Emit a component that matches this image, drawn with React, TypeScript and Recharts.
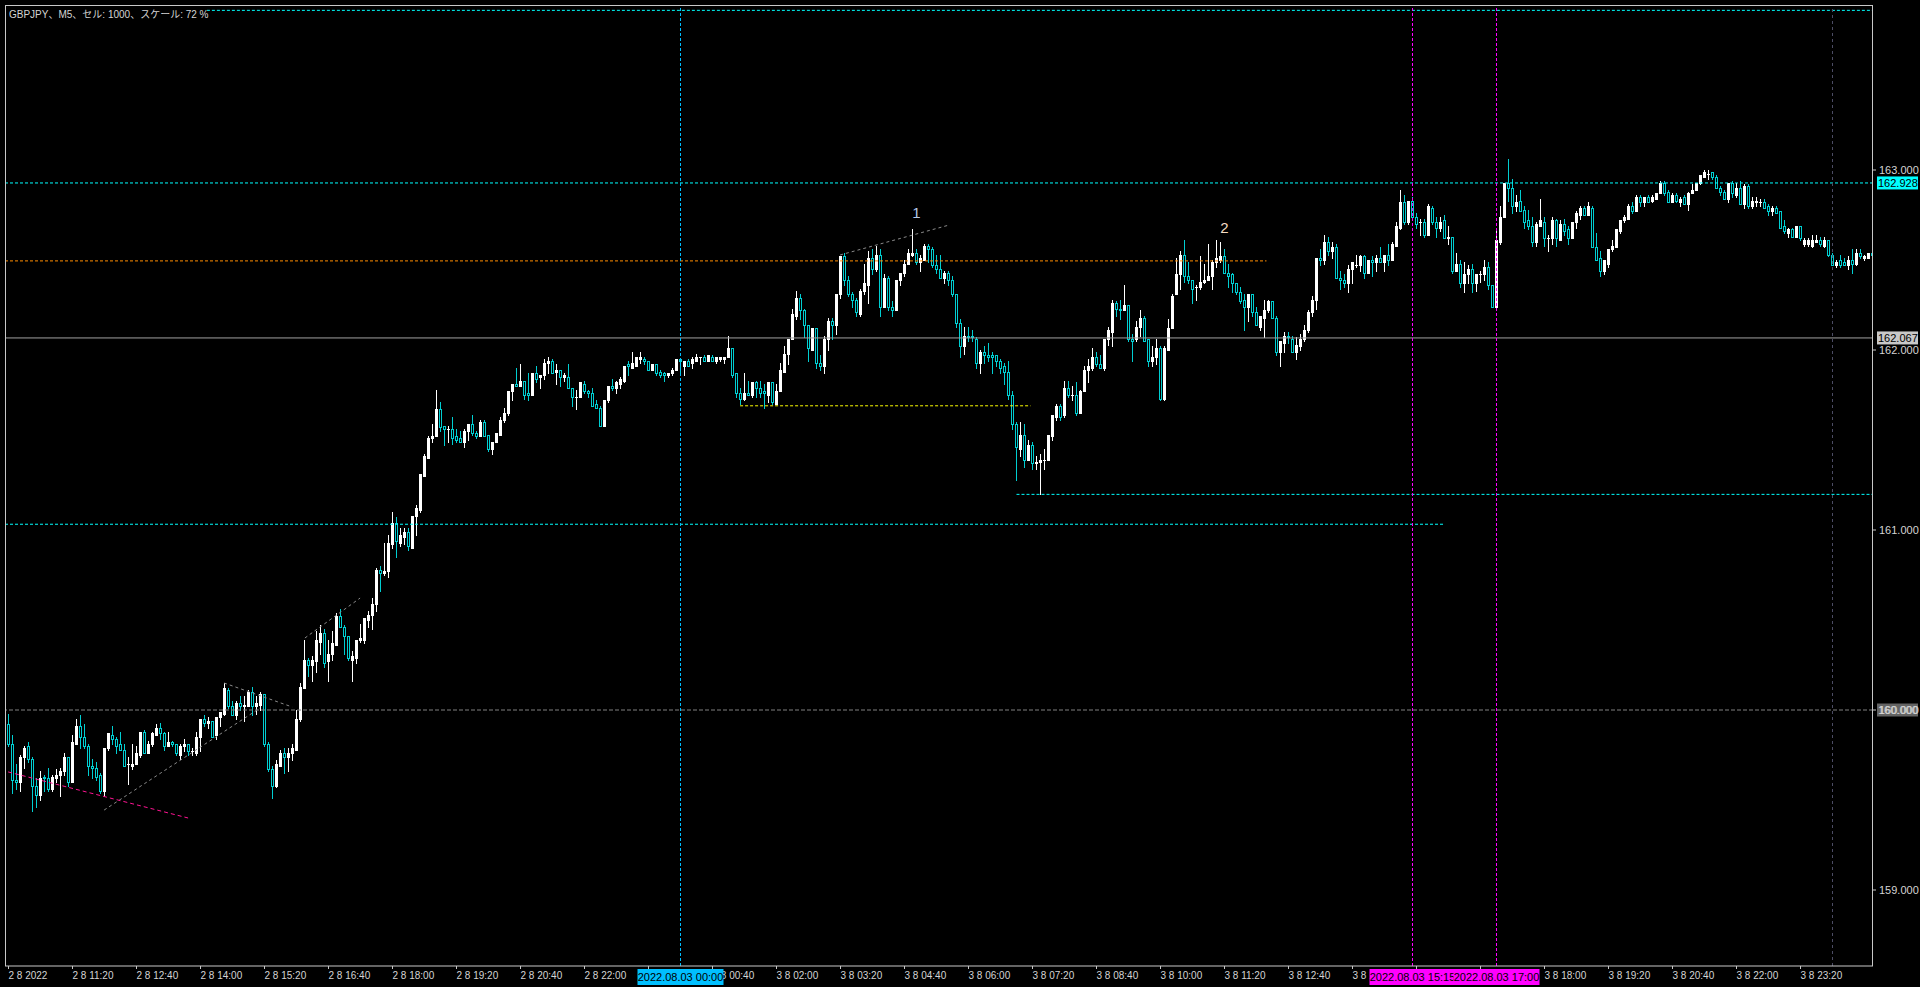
import React from 'react';
import { ComposedChart, Bar, XAxis, YAxis, ReferenceLine, ReferenceDot } from 'recharts';

// ---------- data ----------
const opens = [
159.92,159.81,159.61,159.60,159.74,159.80,159.73,159.58,159.53,159.63,
159.62,159.56,159.62,159.64,159.66,159.74,159.60,159.81,159.91,159.85,
159.80,159.69,159.68,159.64,159.55,159.79,159.86,159.84,159.81,159.78,
159.70,159.69,159.70,159.75,159.88,159.76,159.81,159.86,159.90,159.87,
159.80,159.82,159.81,159.75,159.80,159.81,159.77,159.76,159.85,159.95,
159.93,159.94,159.86,159.96,159.98,160.11,160.02,159.97,160.04,160.02,
160.02,160.10,160.02,160.03,160.09,159.81,159.67,159.58,159.69,159.76,
159.74,159.76,159.78,159.95,160.12,160.28,160.25,160.27,160.38,160.43,
160.27,160.31,160.36,160.52,160.46,160.41,160.28,160.29,160.39,160.39,
160.50,160.53,160.59,160.78,160.76,160.77,160.92,161.04,160.93,160.96,
160.99,160.90,161.08,161.11,161.30,161.40,161.51,161.52,161.67,161.58,
161.56,161.56,161.52,161.51,161.49,161.55,161.59,161.54,161.52,161.60,
161.53,161.45,161.49,161.53,161.61,161.65,161.77,161.81,161.80,161.83,
161.76,161.75,161.87,161.85,161.86,161.93,161.94,161.88,161.89,161.85,
161.85,161.79,161.74,161.74,161.81,161.77,161.76,161.70,161.68,161.58,
161.72,161.80,161.79,161.81,161.83,161.92,161.90,161.91,161.95,161.95,
161.94,161.89,161.92,161.88,161.87,161.86,161.87,161.89,161.95,161.91,
161.94,161.93,161.94,161.96,161.96,161.94,161.96,161.94,161.95,161.95,
161.96,162.01,161.87,161.76,161.73,161.76,161.75,161.82,161.79,161.77,
161.75,161.82,161.70,161.77,161.88,161.98,162.06,162.19,162.29,162.22,
162.14,162.00,162.12,161.93,161.91,162.06,162.16,162.14,162.31,162.52,
162.39,162.31,162.28,162.20,162.33,162.36,162.51,162.45,162.53,162.24,
162.40,162.24,162.22,162.39,162.43,162.48,162.53,162.54,162.49,162.50,
162.58,162.56,162.47,162.45,162.40,162.43,162.39,162.31,162.15,162.02,
162.08,162.08,162.06,161.93,161.99,161.97,161.97,161.97,161.94,161.91,
161.88,161.75,161.59,161.45,161.53,161.39,161.47,161.37,161.38,161.39,
161.39,161.52,161.63,161.69,161.64,161.79,161.75,161.75,161.65,161.77,
161.89,161.90,161.96,161.92,161.90,162.06,162.10,162.26,162.23,162.22,
162.25,162.06,162.06,162.13,162.18,162.06,161.94,161.96,162.01,161.73,
162.00,162.12,162.31,162.42,162.53,162.41,162.39,162.35,162.35,162.38,
162.39,162.41,162.49,162.50,162.52,162.43,162.42,162.37,162.32,162.28,
162.24,162.31,162.21,162.13,162.18,162.22,162.27,162.18,161.99,162.04,
162.08,162.06,161.99,162.02,162.06,162.11,162.21,162.28,162.51,162.50,
162.60,162.55,162.57,162.40,162.39,162.37,162.45,162.47,162.47,162.52,
162.43,162.50,162.49,162.51,162.49,162.53,162.50,162.58,162.68,162.82,
162.71,162.83,162.74,162.71,162.71,162.64,162.79,162.71,162.68,162.72,
162.62,162.63,162.44,162.48,162.37,162.42,162.45,162.37,162.42,162.42,
162.46,162.36,162.24,162.60,162.74,162.93,162.90,162.80,162.83,162.78,
162.72,162.69,162.60,162.69,162.71,162.62,162.62,162.72,162.61,162.70,
162.67,162.62,162.71,162.75,162.79,162.75,162.79,162.57,162.51,162.44,
162.48,162.56,162.57,162.66,162.72,162.73,162.80,162.77,162.85,162.82,
162.85,162.83,162.84,162.87,162.93,162.88,162.82,162.86,162.82,162.85,
162.81,162.87,162.89,162.93,162.96,162.98,162.99,162.96,162.90,162.88,
162.84,162.93,162.86,162.90,162.81,162.91,162.80,162.82,162.82,162.82,
162.80,162.77,162.79,162.77,162.69,162.65,162.67,162.63,162.69,162.59,
162.59,162.58,162.60,162.61,162.58,162.61,162.53,162.47,162.50,162.49,
162.47,162.50,162.48,162.54,162.51,162.51,162.54,
];

const highs = [
159.98,159.86,159.70,159.75,159.80,159.82,159.74,159.62,159.66,159.64,
159.68,159.64,159.67,159.68,159.76,159.74,159.86,159.95,159.97,159.92,
159.81,159.73,159.71,159.65,159.79,159.87,159.91,159.85,159.88,159.81,
159.74,159.81,159.80,159.88,159.89,159.83,159.88,159.92,159.93,159.88,
159.88,159.83,159.81,159.81,159.84,159.81,159.79,159.88,159.95,159.97,
159.96,159.94,159.96,159.99,160.15,160.12,160.05,160.05,160.08,160.08,
160.11,160.13,160.08,160.10,160.09,159.82,159.69,159.72,159.78,159.79,
159.79,159.81,160.00,160.15,160.39,160.29,160.30,160.44,160.47,160.45,
160.39,160.44,160.54,160.56,160.47,160.41,160.33,160.39,160.48,160.51,
160.55,160.62,160.79,160.80,160.93,160.97,161.10,161.07,161.01,161.01,
161.01,161.08,161.14,161.31,161.42,161.52,161.59,161.78,161.71,161.58,
161.58,161.63,161.56,161.55,161.56,161.59,161.64,161.55,161.61,161.61,
161.53,161.49,161.54,161.63,161.68,161.77,161.81,161.90,161.92,161.83,
161.87,161.87,161.91,161.86,161.95,161.96,161.95,161.92,161.89,161.87,
161.92,161.79,161.78,161.82,161.83,161.78,161.79,161.72,161.69,161.72,
161.80,161.84,161.83,161.85,161.91,161.94,161.99,161.96,161.99,161.96,
161.94,161.92,161.92,161.89,161.88,161.87,161.90,161.95,161.95,161.94,
161.95,161.96,161.98,161.96,161.97,161.97,161.97,161.96,161.96,161.96,
162.08,162.01,161.87,161.79,161.87,161.83,161.82,161.83,161.83,161.81,
161.82,161.82,161.81,161.93,162.02,162.06,162.23,162.33,162.31,162.23,
162.14,162.12,162.12,161.97,162.08,162.18,162.18,162.31,162.52,162.54,
162.41,162.32,162.29,162.34,162.48,162.55,162.56,162.58,162.56,162.42,
162.41,162.27,162.39,162.43,162.50,162.56,162.67,162.56,162.53,162.59,
162.59,162.57,162.53,162.53,162.44,162.44,162.41,162.31,162.17,162.13,
162.13,162.11,162.07,162.00,162.02,162.04,161.99,161.97,161.95,161.93,
161.94,161.77,161.60,161.60,161.59,161.50,161.49,161.41,161.42,161.45,
161.53,161.64,161.70,161.70,161.83,161.83,161.80,161.82,161.78,161.91,
161.95,162.01,161.99,161.97,162.06,162.13,162.28,162.27,162.28,162.36,
162.25,162.09,162.16,162.22,162.19,162.06,162.02,162.06,162.02,162.02,
162.17,162.31,162.51,162.55,162.61,162.49,162.39,162.36,162.52,162.48,
162.59,162.50,162.61,162.60,162.56,162.48,162.43,162.37,162.35,162.31,
162.31,162.31,162.24,162.19,162.28,162.28,162.27,162.19,162.05,162.10,
162.10,162.08,162.07,162.09,162.14,162.22,162.30,162.51,162.56,162.64,
162.63,162.60,162.59,162.44,162.42,162.47,162.49,162.53,162.53,162.53,
162.50,162.52,162.53,162.57,162.53,162.59,162.60,162.71,162.89,162.86,
162.83,162.85,162.76,162.73,162.73,162.81,162.80,162.74,162.74,162.75,
162.69,162.63,162.54,162.50,162.49,162.47,162.48,162.42,162.44,162.50,
162.49,162.36,162.66,162.80,162.93,163.06,162.95,162.86,162.89,162.80,
162.78,162.74,162.71,162.84,162.74,162.64,162.74,162.73,162.72,162.73,
162.69,162.71,162.77,162.80,162.80,162.82,162.80,162.65,162.55,162.50,
162.56,162.61,162.67,162.72,162.75,162.81,162.82,162.86,162.86,162.85,
162.86,162.86,162.87,162.94,162.94,162.89,162.87,162.87,162.85,162.86,
162.88,162.92,162.93,162.97,163.00,163.00,162.99,162.97,162.91,162.89,
162.93,162.94,162.93,162.94,162.92,162.92,162.85,162.85,162.84,162.84,
162.81,162.80,162.80,162.77,162.72,162.68,162.68,162.69,162.69,162.62,
162.62,162.64,162.64,162.63,162.63,162.61,162.54,162.50,162.53,162.51,
162.52,162.56,162.56,162.56,162.53,162.54,162.54,
];

const lows = [
159.80,159.54,159.56,159.55,159.68,159.71,159.44,159.46,159.50,159.55,
159.55,159.55,159.60,159.52,159.64,159.58,159.60,159.81,159.79,159.79,
159.64,159.62,159.61,159.54,159.52,159.78,159.81,159.76,159.78,159.69,
159.59,159.67,159.70,159.74,159.76,159.76,159.80,159.86,159.84,159.78,
159.80,159.80,159.75,159.73,159.77,159.75,159.75,159.75,159.77,159.91,
159.90,159.85,159.84,159.91,159.97,160.01,159.97,159.95,160.00,159.94,
160.02,159.97,159.98,160.00,159.80,159.66,159.51,159.57,159.69,159.65,
159.66,159.72,159.78,159.94,160.12,160.19,160.16,160.21,160.31,160.24,
160.16,160.28,160.36,160.46,160.31,160.28,160.16,160.26,160.38,160.37,
160.46,160.45,160.55,160.66,160.75,160.74,160.90,160.85,160.91,160.92,
160.89,160.90,160.97,161.10,161.30,161.40,161.49,161.52,161.55,161.47,
161.49,161.48,161.49,161.49,161.46,161.50,161.53,161.51,161.52,161.52,
161.44,161.42,161.49,161.53,161.60,161.64,161.72,161.80,161.80,161.73,
161.72,161.75,161.82,161.79,161.84,161.87,161.87,161.81,161.80,161.83,
161.79,161.69,161.67,161.74,161.76,161.74,161.69,161.68,161.58,161.58,
161.71,161.78,161.76,161.79,161.82,161.86,161.90,161.91,161.93,161.92,
161.89,161.89,161.86,161.85,161.83,161.85,161.86,161.89,161.87,161.86,
161.91,161.90,161.94,161.92,161.94,161.94,161.94,161.93,161.94,161.93,
161.96,161.85,161.74,161.70,161.72,161.75,161.74,161.74,161.74,161.68,
161.71,161.70,161.70,161.77,161.88,161.92,162.06,162.17,162.17,162.07,
161.94,162.00,161.90,161.89,161.87,162.00,162.06,162.09,162.29,162.36,
162.30,162.24,162.19,162.19,162.31,162.26,162.42,162.44,162.19,162.24,
162.22,162.19,162.22,162.36,162.41,162.48,162.52,162.48,162.44,162.50,
162.49,162.46,162.43,162.40,162.37,162.36,162.30,162.13,161.96,161.98,
162.05,162.05,161.90,161.87,161.93,161.94,161.87,161.91,161.87,161.81,
161.73,161.56,161.28,161.41,161.35,161.39,161.34,161.34,161.20,161.34,
161.39,161.50,161.61,161.61,161.63,161.74,161.72,161.64,161.65,161.77,
161.82,161.89,161.91,161.90,161.89,162.03,162.02,162.19,162.17,162.22,
162.05,161.94,162.05,162.08,162.05,161.91,161.91,161.92,161.72,161.72,
162.00,162.12,162.31,162.34,162.38,162.37,162.26,162.28,162.34,162.37,
162.39,162.34,162.46,162.49,162.43,162.35,162.32,162.31,162.26,162.11,
162.16,162.19,162.14,162.11,162.07,162.21,162.18,161.97,161.91,161.99,
162.04,161.99,161.95,162.00,162.05,162.10,162.19,162.23,162.47,162.48,
162.53,162.51,162.40,162.34,162.35,162.32,162.37,162.46,162.44,162.40,
162.43,162.41,162.44,162.49,162.44,162.47,162.50,162.58,162.67,162.70,
162.70,162.73,162.68,162.64,162.63,162.64,162.70,162.63,162.66,162.62,
162.59,162.43,162.44,162.35,162.32,162.37,162.32,162.33,162.38,162.39,
162.34,162.24,162.24,162.59,162.74,162.83,162.76,162.77,162.77,162.68,
162.67,162.58,162.58,162.69,162.58,162.55,162.59,162.58,162.61,162.64,
162.59,162.62,162.68,162.73,162.75,162.75,162.57,162.50,162.41,162.42,
162.46,162.55,162.57,162.65,162.71,162.73,162.76,162.77,162.80,162.80,
162.82,162.82,162.84,162.87,162.86,162.82,162.82,162.82,162.80,162.81,
162.78,162.87,162.89,162.92,162.96,162.95,162.95,162.90,162.86,162.84,
162.82,162.85,162.85,162.81,162.79,162.79,162.79,162.80,162.80,162.79,
162.75,162.75,162.76,162.68,162.65,162.63,162.63,162.63,162.61,162.58,
162.58,162.57,162.60,162.58,162.57,162.52,162.47,162.46,162.46,162.47,
162.45,162.43,162.47,162.51,162.50,162.51,162.53,
];

const closes = [
159.81,159.61,159.60,159.74,159.79,159.73,159.58,159.53,159.62,159.62,
159.56,159.63,159.64,159.66,159.74,159.60,159.82,159.91,159.85,159.80,
159.69,159.68,159.63,159.55,159.79,159.87,159.84,159.80,159.78,159.69,
159.70,159.70,159.76,159.88,159.76,159.81,159.87,159.90,159.87,159.80,
159.82,159.81,159.76,159.80,159.81,159.77,159.77,159.85,159.95,159.93,
159.94,159.85,159.96,159.99,160.12,160.02,159.97,160.04,160.02,160.03,
160.10,160.02,160.04,160.09,159.81,159.67,159.58,159.70,159.76,159.74,
159.76,159.79,159.95,160.13,160.28,160.25,160.28,160.39,160.43,160.26,
160.31,160.37,160.52,160.46,160.41,160.29,160.30,160.39,160.40,160.51,
160.53,160.59,160.78,160.76,160.77,160.93,161.04,160.94,160.97,160.99,
160.91,161.08,161.12,161.31,161.41,161.51,161.52,161.67,161.57,161.56,
161.56,161.51,161.50,161.49,161.55,161.59,161.54,161.52,161.60,161.52,
161.45,161.49,161.54,161.61,161.65,161.77,161.81,161.80,161.83,161.75,
161.75,161.87,161.84,161.86,161.93,161.94,161.87,161.89,161.85,161.86,
161.79,161.74,161.74,161.82,161.77,161.76,161.69,161.68,161.58,161.72,
161.80,161.79,161.82,161.84,161.91,161.91,161.93,161.96,161.96,161.94,
161.89,161.92,161.87,161.86,161.86,161.87,161.89,161.95,161.94,161.94,
161.91,161.95,161.96,161.96,161.94,161.97,161.94,161.96,161.96,161.96,
162.01,161.86,161.76,161.73,161.76,161.75,161.82,161.79,161.76,161.76,
161.82,161.71,161.77,161.89,161.98,162.06,162.20,162.29,162.22,162.14,
162.01,162.12,161.93,161.91,162.06,162.16,162.14,162.31,162.52,162.39,
162.31,162.28,162.21,162.33,162.37,162.51,162.45,162.53,162.24,162.40,
162.24,162.22,162.39,162.43,162.48,162.54,162.54,162.49,162.51,162.58,
162.56,162.47,162.45,162.40,162.43,162.39,162.31,162.15,162.02,162.08,
162.07,162.07,161.93,161.99,161.97,161.96,161.96,161.94,161.90,161.88,
161.75,161.59,161.46,161.53,161.39,161.47,161.37,161.38,161.39,161.39,
161.53,161.64,161.69,161.63,161.79,161.75,161.75,161.65,161.77,161.89,
161.91,161.96,161.92,161.90,162.06,162.11,162.26,162.23,162.22,162.25,
162.06,162.05,162.13,162.18,162.05,161.94,161.96,162.01,161.73,162.01,
162.12,162.30,162.42,162.53,162.41,162.39,162.34,162.35,162.38,162.39,
162.41,162.49,162.51,162.52,162.43,162.41,162.37,162.32,162.27,162.24,
162.31,162.21,162.14,162.19,162.22,162.27,162.18,161.99,162.05,162.08,
162.07,161.99,162.03,162.06,162.11,162.21,162.28,162.51,162.50,162.60,
162.55,162.57,162.40,162.39,162.37,162.45,162.49,162.47,162.52,162.43,
162.50,162.49,162.51,162.49,162.53,162.50,162.59,162.69,162.82,162.71,
162.83,162.74,162.70,162.71,162.64,162.80,162.71,162.68,162.71,162.62,
162.63,162.44,162.48,162.37,162.42,162.45,162.37,162.42,162.42,162.46,
162.36,162.24,162.61,162.74,162.93,162.90,162.80,162.82,162.77,162.71,
162.69,162.60,162.70,162.72,162.62,162.62,162.72,162.62,162.70,162.66,
162.62,162.71,162.76,162.79,162.75,162.80,162.57,162.50,162.44,162.50,
162.56,162.58,162.67,162.72,162.74,162.80,162.77,162.85,162.82,162.85,
162.82,162.85,162.87,162.93,162.87,162.82,162.86,162.83,162.84,162.81,
162.87,162.89,162.93,162.97,162.99,162.98,162.96,162.90,162.88,162.84,
162.93,162.87,162.90,162.81,162.91,162.80,162.83,162.83,162.82,162.79,
162.77,162.79,162.76,162.68,162.66,162.67,162.63,162.69,162.62,162.61,
162.61,162.61,162.61,162.59,162.61,162.53,162.47,162.49,162.47,162.47,
162.50,162.48,162.54,162.52,162.52,162.54,162.53,
];

// x-axis (bar index of each time tick, 5-minute bars starting 2 Aug 10:00)
const xTickIdx = [0,16,32,48,64,80,96,112,128,144,160,176,192,208,224,240,256,272,288,304,320,336,352,368,384,400,416,432,448];
const xTickText = [
  '2 8 2022','2 8 11:20','2 8 12:40','2 8 14:00','2 8 15:20','2 8 16:40','2 8 18:00','2 8 19:20','2 8 20:40','2 8 22:00',
  '','3 8 00:40','3 8 02:00','3 8 03:20','3 8 04:40','3 8 06:00','3 8 07:20','3 8 08:40','3 8 10:00','3 8 11:20',
  '3 8 12:40','3 8 14:00','','','3 8 18:00','3 8 19:20','3 8 20:40','3 8 22:00','3 8 23:20',
];
const yTicks = [159, 160, 161, 162, 163];

// vertical time markers
const timeMarkIdx = [168, 351, 372, 456];
const timeMarkText = ['2022.08.03 00:00', '2022.08.03 15:15', '2022.08.03 17:00', ''];

// horizontal price levels
const bidPrice = 162.928;
const lastPrice = 162.067;
const roundPrice = 160.0;
const topLevel = { price: 163.887, from: 49.6 };
const orangeLevel = { price: 162.495, to: 314.5 };
const yellowLevel = { price: 161.69, from: 182.9, to: 255.5 };
const lowLevel = { price: 161.198, from: 252 };
const supportLevel = { price: 161.032, to: 359.1 };

// trend lines [i1, p1, i2, p2]
const grayTrends = [
  [23.9, 159.444, 62.9, 160.011],
  [53.9, 160.15, 70.9, 160.017],
  [74.1, 160.4, 87.9, 160.622],
  [207.9, 162.528, 235.1, 162.694],
];
const pinkTrend = [-0.1, 159.656, 44.9, 159.4];

// text marks
const markText = ['1', '2'];
const markIdx = [227, 304];
const markPrice = [162.763, 162.679];

const title = 'GBPJPY、M5、セル: 1000、スケール: 72 %';

// ---------- styling ----------
const BULL = '#ffffff';
const BEAR = '#00ced1';
const AXIS = '#c8c8c8';
const TXT = '#d4d4d4';
const FONT = "'Liberation Sans', Arial, 'Noto Sans CJK JP', sans-serif";
const X_MIN = -0.875;
const X_MAX = 466.125;
const Y_MIN = 158.5778;
const Y_MAX = 163.9167;

const data = opens.map((o, i) => ({ i, o, h: highs[i], l: lows[i], c: closes[i], range: [lows[i], highs[i]] }));

function Candle(props: any) {
  const { x, y, width, height, payload } = props;
  if (!payload || !isFinite(x) || !isFinite(y)) return <g />;
  const cx = Math.floor(x + width / 2) + 0.5;
  const yTop = Math.min(y, y + height);
  const yBot = Math.max(y, y + height);
  const span = payload.h - payload.l;
  const toY = (p: number) => (span > 0 ? yTop + ((payload.h - p) / span) * (yBot - yTop) : yTop);
  const bull = payload.c >= payload.o;
  const col = bull ? BULL : BEAR;
  const wt = Math.round(yTop);
  const wb = Math.round(yBot);
  const bt = Math.round(toY(Math.max(payload.o, payload.c)));
  const bb = Math.round(toY(Math.min(payload.o, payload.c)));
  let body;
  if (bull) {
    body = <rect x={cx - 1.5} y={bt} width={3} height={Math.max(1, bb - bt + 1)} fill={BULL} />;
  } else if (bb - bt >= 2) {
    body = <rect x={cx - 1} y={bt + 0.5} width={2} height={bb - bt} fill="#000" stroke={BEAR} strokeWidth={1} />;
  } else {
    body = <rect x={cx - 1.5} y={bt} width={3} height={Math.max(1, bb - bt + 1)} fill={BEAR} />;
  }
  return (
    <g>
      <rect x={cx - 0.5} y={wt} width={1} height={Math.max(1, wb - wt + 1)} fill={col} />
      {body}
    </g>
  );
}

const XTick = (props: any) => {
  const { x, y, payload } = props;
  const k = xTickIdx.indexOf(Math.round(payload.value));
  const label = k >= 0 ? xTickText[k] : '';
  if (!label) return <g />;
  return (
    <text x={x} y={y} dy="0.71em" fill={TXT} fontSize={10} fontFamily={FONT} textAnchor="start">
      {label}
    </text>
  );
};

const YTick = (props: any) => {
  const { x, y, payload } = props;
  return (
    <text x={x} y={y} dy="0.355em" fill={TXT} fontSize={11} fontFamily={FONT} textAnchor="start">
      {Number(payload.value).toFixed(3)}
    </text>
  );
};

const priceTag = (bg: string, fg: string, text: string) => (props: any) => {
  const vb = props.viewBox || {};
  const xr = (vb.x || 0) + (vb.width || 0);
  const yy = vb.y || 0;
  return (
    <g>
      <rect x={xr + 4} y={yy - 6.5} width={41} height={13} fill={bg} />
      <text x={xr + 5} y={yy} dy="0.355em" fill={fg} fontSize={11} fontFamily={FONT} textAnchor="start">
        {text}
      </text>
    </g>
  );
};

const timeTag = (bg: string, text: string) => (props: any) => {
  const vb = props.viewBox || {};
  const xx = vb.x || 0;
  const yb = (vb.y || 0) + (vb.height || 0);
  if (!text) return <g />;
  return (
    <g>
      <rect x={xx - 43} y={yb + 3} width={86} height={16} fill={bg} />
      <text x={xx} y={yb + 11} dy="0.355em" fill="#000" fontSize={11} fontFamily={FONT} textAnchor="middle">
        {text}
      </text>
    </g>
  );
};

const markColors = ['#b4c8e6', '#f4dcc4'];
const timeColors = ['#00bfff', '#ff00ff', '#ff00ff', '#4c4c64'];

export default function App() {
  return (
    <div style={{ position: 'fixed', left: 0, top: 0, width: 1920, height: 987, background: '#000', overflow: 'hidden' }}>
      <ComposedChart width={1920} height={987} data={data} margin={{ top: 5, right: 0, bottom: 0, left: 5 }}>
        <XAxis
          dataKey="i"
          type="number"
          domain={[X_MIN, X_MAX]}
          allowDataOverflow
          ticks={xTickIdx}
          interval={0}
          height={21}
          axisLine={false}
          tickLine={{ stroke: AXIS }}
          tickSize={3}
          tickMargin={3}
          tick={<XTick />}
        />
        <YAxis
          orientation="right"
          type="number"
          domain={[Y_MIN, Y_MAX]}
          allowDataOverflow
          ticks={yTicks}
          interval={0}
          width={47}
          axisLine={false}
          tickLine={{ stroke: AXIS }}
          tickSize={3}
          tickMargin={3}
          tick={<YTick />}
        />
        <Bar dataKey="range" barSize={3} shape={<Candle />} isAnimationActive={false} />

        {/* horizontal levels */}
        <ReferenceLine
          segment={[{ x: topLevel.from, y: topLevel.price }, { x: X_MAX, y: topLevel.price }]}
          stroke="#00ffff" strokeDasharray="3 2" ifOverflow="visible"
        />
        <ReferenceLine y={bidPrice} stroke="#00ffff" strokeDasharray="3 2" ifOverflow="visible"
          label={priceTag('#00ffff', '#000', bidPrice.toFixed(3))} />
        <ReferenceLine
          segment={[{ x: X_MIN, y: orangeLevel.price }, { x: orangeLevel.to, y: orangeLevel.price }]}
          stroke="#ff8c00" strokeDasharray="3 2" ifOverflow="visible"
        />
        <ReferenceLine y={lastPrice} stroke="#a0a0a0" ifOverflow="visible"
          label={priceTag('#c8c8c8', '#000', lastPrice.toFixed(3))} />
        <ReferenceLine
          segment={[{ x: yellowLevel.from, y: yellowLevel.price }, { x: yellowLevel.to, y: yellowLevel.price }]}
          stroke="#ffff00" strokeDasharray="3 2" ifOverflow="visible"
        />
        <ReferenceLine
          segment={[{ x: lowLevel.from, y: lowLevel.price }, { x: X_MAX, y: lowLevel.price }]}
          stroke="#00ffff" strokeDasharray="3 2" ifOverflow="visible"
        />
        <ReferenceLine
          segment={[{ x: X_MIN, y: supportLevel.price }, { x: supportLevel.to, y: supportLevel.price }]}
          stroke="#00ffff" strokeDasharray="3 2" ifOverflow="visible"
        />
        <ReferenceLine y={roundPrice} stroke="#808080" strokeDasharray="4 2" ifOverflow="visible"
          label={priceTag('#646464', '#d0d0d0', roundPrice.toFixed(3))} />

        {/* trend lines */}
        {grayTrends.map((t, k) => (
          <ReferenceLine key={'g' + k}
            segment={[{ x: t[0], y: t[1] }, { x: t[2], y: t[3] }]}
            stroke="#8a8a8a" strokeDasharray="3 3" ifOverflow="visible" />
        ))}
        <ReferenceLine
          segment={[{ x: pinkTrend[0], y: pinkTrend[1] }, { x: pinkTrend[2], y: pinkTrend[3] }]}
          stroke="#ff1493" strokeDasharray="4 3" ifOverflow="visible" />

        {/* text marks */}
        {markText.map((t, k) => (
          <ReferenceDot key={'m' + k} x={markIdx[k]} y={markPrice[k]} r={1} ifOverflow="visible"
            shape={(p: any) => (
              <text x={p.cx} y={p.cy} dy="0.355em" textAnchor="middle" fill={markColors[k]} fontSize={15} fontFamily={FONT}>
                {t}
              </text>
            )}
          />
        ))}
      </ComposedChart>

      {/* overlay chart (same scales) for the time markers and their tags, drawn above the axis labels */}
      <div style={{ position: 'absolute', left: 0, top: 0, pointerEvents: 'none' }}>
        <ComposedChart width={1920} height={987} data={data} margin={{ top: 5, right: 47, bottom: 21, left: 5 }}>
          <XAxis dataKey="i" type="number" domain={[X_MIN, X_MAX]} allowDataOverflow hide />
          <YAxis type="number" domain={[Y_MIN, Y_MAX]} allowDataOverflow hide />
          {timeMarkIdx.map((ix, k) => (
            <ReferenceLine key={'v' + k} x={ix} stroke={timeColors[k]} strokeDasharray={k === 3 ? '3 3' : '3 2'}
              ifOverflow="visible" label={timeTag(timeColors[k], timeMarkText[k])} />
          ))}
        </ComposedChart>
      </div>

      <svg width={1920} height={987} style={{ position: 'absolute', left: 0, top: 0, pointerEvents: 'none' }}>
        <rect x={5.5} y={5.5} width={1867} height={960.5} fill="none" stroke={AXIS} strokeWidth={1} />
      </svg>
      <div style={{ position: 'absolute', left: 9, top: 8, fontSize: 10, lineHeight: '14px', color: TXT, fontFamily: FONT, whiteSpace: 'nowrap' }}>
        {title}
      </div>
    </div>
  );
}
